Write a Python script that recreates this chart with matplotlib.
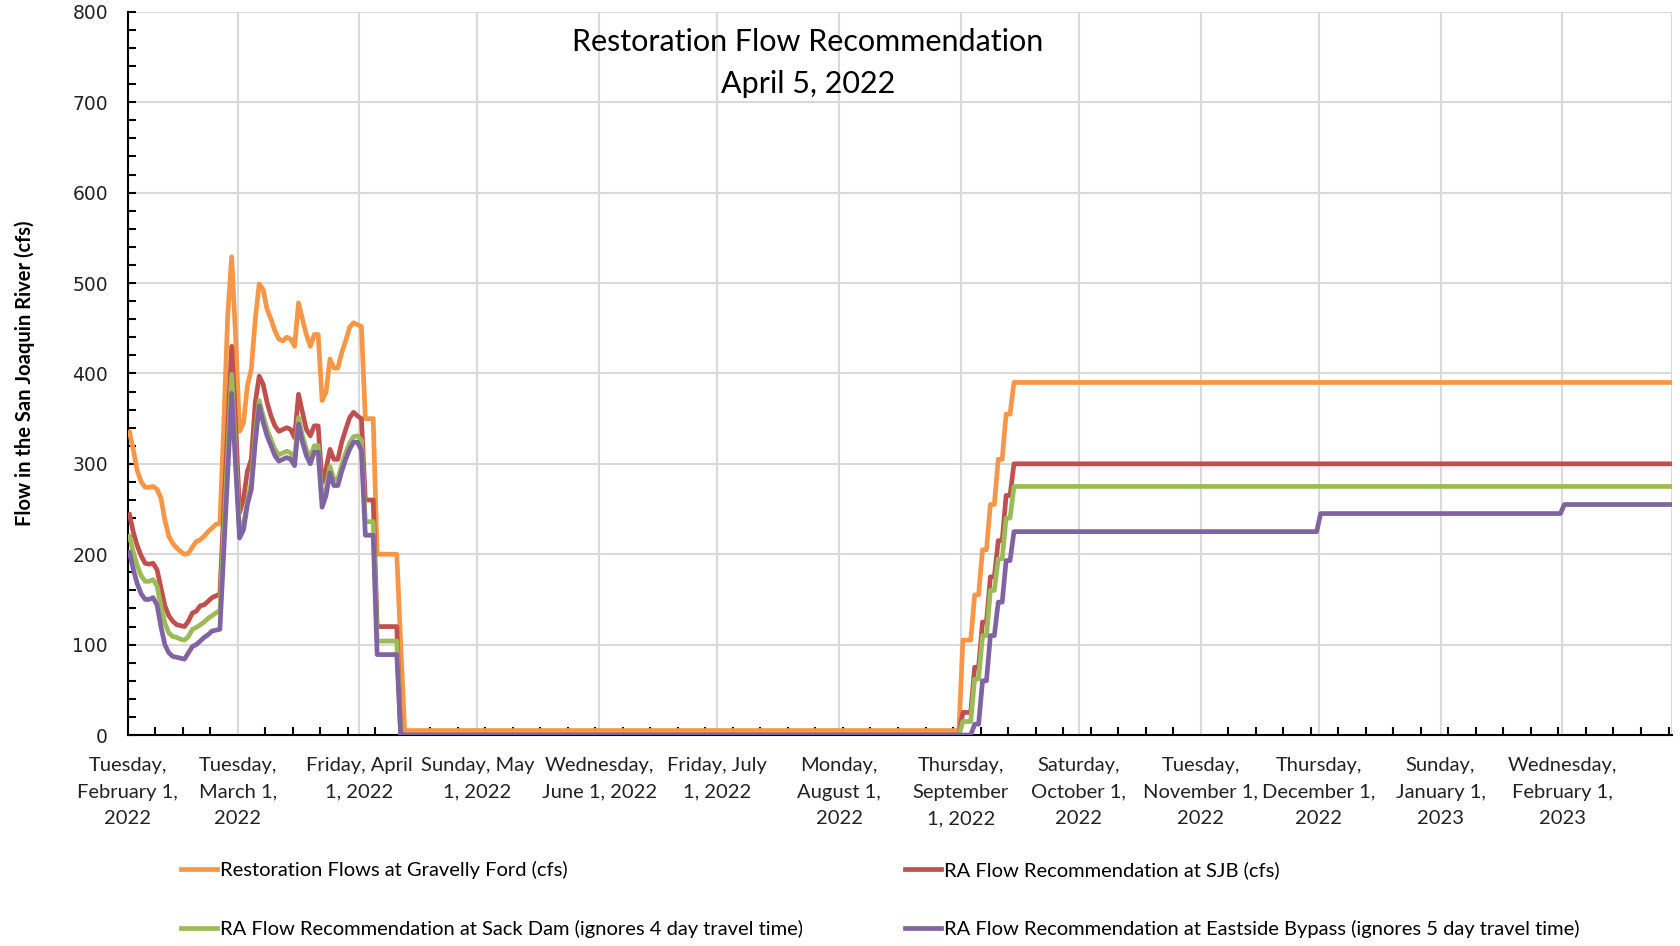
import matplotlib
matplotlib.use("Agg")
import matplotlib.pyplot as plt
import matplotlib.dates as mdates
from matplotlib.ticker import MultipleLocator
import pandas as pd

# daily values, Feb 1 2022 .. Apr 12 2022
gravelly_early = [335, 315, 292, 280, 274, 274, 275, 272, 262, 238, 220, 212, 207, 203, 200, 201,
                  208, 214, 216, 220, 225, 229, 233, 234, 345, 465, 529, 440, 336, 345, 386, 405,
                  460, 499, 493, 471, 460, 447, 438, 436, 440, 438, 430, 478, 460, 443, 430, 443,
                  443, 370, 379, 416, 406, 406, 423, 436, 451, 456, 454, 452, 350, 350, 350, 200,
                  200, 200, 200, 200, 200, 100, 5]
sjb_early = [244, 224, 209, 198, 190, 189, 190, 183, 163, 143, 132, 126, 122, 121, 120, 126,
             135, 137, 143, 144, 148, 152, 154, 156, 250, 340, 430, 345, 246, 261, 292, 305,
             368, 397, 388, 368, 353, 342, 336, 338, 340, 338, 329, 377, 357, 338, 331, 342,
             342, 279, 294, 316, 305, 305, 324, 338, 351, 357, 353, 350, 260, 260, 260, 120,
             120, 120, 120, 120, 120, 0, 0]
sack_early = [220, 202, 187, 176, 170, 170, 172, 165, 143, 124, 113, 109, 108, 106, 105, 109,
              117, 119, 122, 125, 129, 132, 135, 138, 225, 312, 399, 310, 227, 233, 258, 280,
              332, 370, 353, 338, 327, 316, 310, 312, 314, 312, 305, 351, 331, 316, 307, 320,
              320, 259, 272, 297, 283, 283, 299, 312, 323, 330, 331, 326, 236, 236, 236, 104,
              104, 104, 104, 104, 104, 0, 0]
esb_early = [202, 183, 167, 156, 150, 150, 152, 144, 120, 100, 91, 87, 86, 85, 84, 91,
             98, 100, 104, 108, 111, 115, 116, 117, 204, 291, 378, 298, 218, 227, 255, 272,
             324, 364, 346, 331, 320, 309, 303, 305, 307, 305, 298, 344, 324, 309, 300, 313,
             313, 252, 265, 290, 276, 276, 292, 305, 316, 324, 324, 315, 221, 221, 221, 89,
             89, 89, 89, 89, 89, 0, 0]

# daily values, Aug 31 2022 .. Sep 14 2022
gravelly_ramp = [5, 105, 105, 105, 155, 155, 205, 205, 255, 255, 305, 305, 355, 355, 390]
sjb_ramp = [0, 25, 25, 25, 75, 75, 125, 125, 175, 175, 215, 215, 265, 265, 300]
sack_ramp = [0, 15, 15, 15, 62, 62, 110, 110, 160, 160, 195, 195, 240, 240, 275]
esb_ramp = [0, 0, 0, 0, 12, 12, 60, 60, 110, 110, 147, 147, 193, 193, 225]

# later change points
gravelly_tail = (["2023-02-28"], [390])
sjb_tail = (["2023-02-28"], [300])
sack_tail = (["2023-02-28"], [275])
esb_tail = (["2022-11-30", "2022-12-01", "2023-01-31", "2023-02-01", "2023-02-28"],
            [225, 245, 245, 255, 255])

labels = ["Restoration Flows at Gravelly Ford (cfs)",
          "RA Flow Recommendation at SJB (cfs)",
          "RA Flow Recommendation at Sack Dam (ignores 4 day travel time)",
          "RA Flow Recommendation at Eastside Bypass (ignores 5 day travel time)"]
colors = ["#F79646", "#C0504D", "#9BBB59", "#8064A2"]

month_labels = ["Tuesday,\nFebruary 1,\n2022", "Tuesday,\nMarch 1,\n2022", "Friday, April\n1, 2022",
                "Sunday, May\n1, 2022", "Wednesday,\nJune 1, 2022", "Friday, July\n1, 2022",
                "Monday,\nAugust 1,\n2022", "Thursday,\nSeptember\n1, 2022", "Saturday,\nOctober 1,\n2022",
                "Tuesday,\nNovember 1,\n2022", "Thursday,\nDecember 1,\n2022", "Sunday,\nJanuary 1,\n2023",
                "Wednesday,\nFebruary 1,\n2023", ""]

early_dates = pd.date_range("2022-02-01", periods=71, freq="D")
ramp_dates = pd.date_range("2022-08-31", periods=15, freq="D")


def build(early, ramp, tail):
    d = list(early_dates) + list(ramp_dates) + list(pd.to_datetime(tail[0]))
    v = list(early) + list(ramp) + list(tail[1])
    # Excel date axis: points sit in the middle of each day slot
    return pd.DatetimeIndex(d) + pd.Timedelta(hours=12), v


series = [build(gravelly_early, gravelly_ramp, gravelly_tail),
          build(sjb_early, sjb_ramp, sjb_tail),
          build(sack_early, sack_ramp, sack_tail),
          build(esb_early, esb_ramp, esb_tail)]

plt.rcParams['font.family'] = ['Lato', 'DejaVu Sans']

fig = plt.figure(figsize=(16.8, 9.46), dpi=100)
ax = fig.add_axes([0.0759, 0.223, 0.9196, 0.7645])

handles = []
for (x, y), lab, c in zip(series, labels, colors):
    h, = ax.plot(x, y, color=c, linewidth=3.4, label=lab, solid_joinstyle='round', zorder=3)
    handles.append(h)

ax.set_ylim(0, 800)
ax.set_xlim(pd.Timestamp("2022-02-01"), pd.Timestamp("2023-03-01"))

ax.yaxis.set_major_locator(MultipleLocator(100))
ax.yaxis.set_minor_locator(MultipleLocator(20))
month_ticks = pd.date_range("2022-02-01", "2023-03-01", freq="MS")
ax.set_xticks(month_ticks)
ax.set_xticklabels(month_labels)
ax.xaxis.set_minor_locator(mdates.WeekdayLocator(byweekday=mdates.TU))

ax.grid(True, which='major', color='#D9D9D9', linewidth=1.5, zorder=0)
ax.set_axisbelow(True)
for s in ['top', 'right']:
    ax.spines[s].set_visible(False)
for s in ['left', 'bottom']:
    ax.spines[s].set_linewidth(1.5)
    ax.spines[s].set_color('black')

ax.tick_params(axis='x', which='major', length=0, pad=16, labelsize=14.5, labelcolor='#222222')
ax.tick_params(axis='x', which='minor', direction='in', length=6, width=1.5)
ax.tick_params(axis='y', which='both', direction='in', length=6, width=1.5, pad=14)
ax.tick_params(axis='y', which='major', labelsize=13.5, labelcolor='#222222')
for t in ax.get_yticklabels():
    t.set_family('DejaVu Sans')
for t in ax.get_xticklabels():
    t.set_horizontalalignment('center')
    t.set_multialignment('center')
    t.set_linespacing(1.68)

ax.set_ylabel("Flow in the San Joaquin River (cfs)", fontsize=14.5, fontweight='bold', labelpad=27)

fig.text(0.481, 0.9335, "Restoration Flow Recommendation\nApril 5, 2022", ha='center', va='center',
         fontsize=22, linespacing=1.6)

leg_kw = dict(loc='upper left', frameon=False, fontsize=14.5, handlelength=1.8, handletextpad=0.15,
              labelspacing=2.0, borderaxespad=0)
leg1 = fig.legend([handles[0], handles[2]], [labels[0], labels[2]], bbox_to_anchor=(0.103, 0.098), **leg_kw)
leg2 = fig.legend([handles[1], handles[3]], [labels[1], labels[3]], bbox_to_anchor=(0.534, 0.098), **leg_kw)

fig.savefig("out.png", dpi=100)
